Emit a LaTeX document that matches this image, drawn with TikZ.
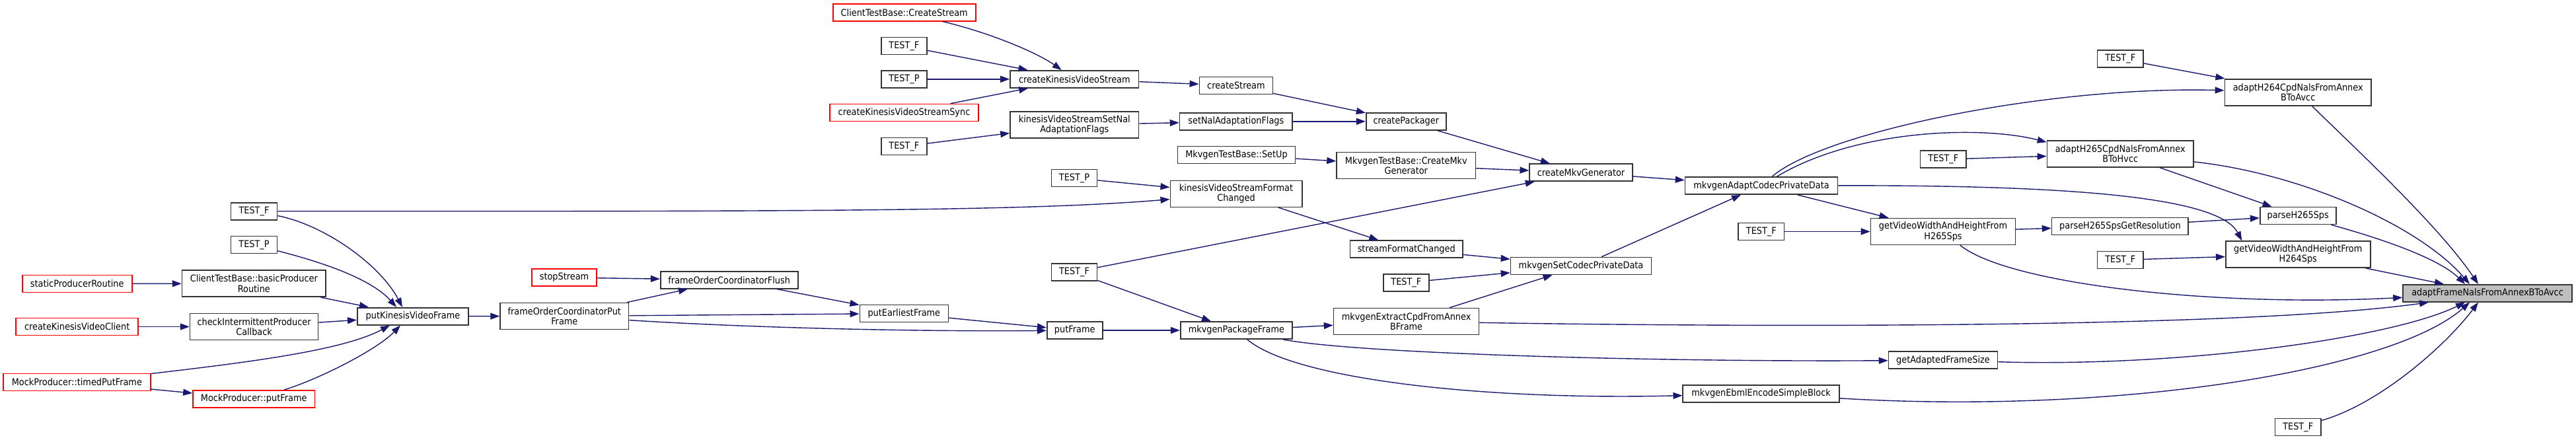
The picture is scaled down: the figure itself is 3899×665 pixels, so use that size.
\documentclass[tikz,border=0pt]{standalone}
\usepackage{fontspec}
\setmainfont{DejaVu Sans}[FakeStretch=0.9]
\usetikzlibrary{arrows.meta}

\definecolor{midnight}{HTML}{191970}
\newcommand*{\boxone}{26}
\newcommand*{\boxtwo}{40}

\begin{document}
\begin{tikzpicture}
[
	x=1pt, y=-1pt,
	fn/.style={draw=black!80, fill=white, line width=1.6pt, inner xsep=2pt, inner ysep=1pt, minimum height=\boxone, font=\fontsize{14.3}{15.3}\selectfont, align=center},
	two/.style={minimum height=\boxtwo},
	trunc/.style={draw=red},
	focus/.style={fill=black!25},
	call/.style={draw=midnight, line width=1.4pt, -{Triangle[length=14pt,width=10pt]}}
]

	\useasboundingbox (0,0) rectangle (3899,665);

	% producer side
	\node[fn, minimum width=70] (tfA) at (384.5,319.7) {TEST\_F};
	\node[fn, minimum width=70] (tpA) at (384.5,370.5) {TEST\_P};
	\node[fn, trunc, minimum width=166] (staticPR) at (116.7,429.5) {staticProducerRoutine};
	\node[fn, two, minimum width=217.5] (basicPR) at (384.3,429.2) {ClientTestBase::basicProducer\\Routine};
	\node[fn, trunc, minimum width=185] (createKVC) at (116.7,494.5) {createKinesisVideoClient};
	\node[fn, two, minimum width=194] (checkIPC) at (384.6,494.5) {checkIntermittentProducer\\Callback};
	\node[fn, trunc, minimum width=222.6] (timedPF) at (116.4,578.5) {MockProducer::timedPutFrame};
	\node[fn, trunc, minimum width=184.4] (mockPF) at (384.2,603.8) {MockProducer::putFrame};
	\node[fn, minimum width=168.4] (putKVF) at (625,478.7) {putKinesisVideoFrame};
	\node[fn, trunc, minimum width=97.5] (stopS) at (854,420) {stopStream};
	\node[fn, two, minimum width=194.5] (focPut) at (854.3,478.5) {frameOrderCoordinatorPut\\Frame};
	\node[fn, minimum width=208] (focFlush) at (1103.7,423.7) {frameOrderCoordinatorFlush};
	\node[fn, minimum width=134] (putEF) at (1368.3,474.5) {putEarliestFrame};

	% stream creation
	\node[fn, trunc, minimum width=216] (ctbCS) at (1368.7,18.7) {ClientTestBase::CreateStream};
	\node[fn, minimum width=69] (tfB) at (1368.4,69.5) {TEST\_F};
	\node[fn, minimum width=69] (tpB) at (1368.4,119.8) {TEST\_P};
	\node[fn, trunc, minimum width=225] (createKVSS) at (1368.5,170.5) {createKinesisVideoStreamSync};
	\node[fn, minimum width=69] (tfC) at (1368.4,221.5) {TEST\_F};
	\node[fn, minimum width=194.6] (createKVS) at (1626.3,119.8) {createKinesisVideoStream};
	\node[fn, two, minimum width=194.6] (kvsSetNal) at (1626.3,189.2) {kinesisVideoStreamSetNal\\AdaptationFlags};
	\node[fn, minimum width=69] (tpC) at (1626,269.5) {TEST\_P};
	\node[fn, minimum width=69] (tfD) at (1626,411.8) {TEST\_F};
	\node[fn, minimum width=84] (putF) at (1626.7,500) {putFrame};
	\node[fn, minimum width=111] (createS) at (1870.9,129.5) {createStream};
	\node[fn, minimum width=170.5] (setNal) at (1870.8,183.8) {setNalAdaptationFlags};
	\node[fn, minimum width=178.3] (mtbSetUp) at (1871.5,234.5) {MkvgenTestBase::SetUp};
	\node[fn, two, minimum width=199.4] (kvsFC) at (1871,293.3) {kinesisVideoStreamFormat\\Changed};
	\node[fn, minimum width=169.3] (pkgFrame) at (1871.4,500) {mkvgenPackageFrame};

	% mkv generator
	\node[fn, minimum width=121.2] (createPkg) at (2128.3,183.8) {createPackager};
	\node[fn, two, minimum width=210.5] (mtbCMG) at (2128.3,250.5) {MkvgenTestBase::CreateMkv\\Generator};
	\node[fn, minimum width=170.3] (streamFC) at (2128.7,377.2) {streamFormatChanged};
	\node[fn, minimum width=69] (tfE) at (2128.3,427.8) {TEST\_F};
	\node[fn, two, minimum width=220] (extractCpd) at (2128.6,486.5) {mkvgenExtractCpdFromAnnex\\BFrame};
	\node[fn, minimum width=155.6] (createMG) at (2393,261.2) {createMkvGenerator};
	\node[fn, minimum width=213] (setCPD) at (2393,402.5) {mkvgenSetCodecPrivateData};
	\node[fn, minimum width=231] (adaptCPD) at (2666,281.2) {mkvgenAdaptCodecPrivateData};
	\node[fn, minimum width=69.5] (tfF) at (2665.8,350.5) {TEST\_F};
	\node[fn, minimum width=236.7] (ebmlESB) at (2665.6,595.7) {mkvgenEbmlEncodeSimpleBlock};

	% nal helpers
	\node[fn, minimum width=69.4] (tfG) at (2941.3,241.2) {TEST\_F};
	\node[fn, two, minimum width=219] (gvwh265) at (2941,350.5) {getVideoWidthAndHeightFrom\\H265Sps};
	\node[fn, minimum width=165] (getAFS) at (2941,545.2) {getAdaptedFrameSize};
	\node[fn, minimum width=69.5] (tfH) at (3209.2,89.2) {TEST\_F};
	\node[fn, two, minimum width=221.6] (adaptH265) at (3209.2,233) {adaptH265CpdNalsFromAnnex\\BToHvcc};
	\node[fn, minimum width=206.7] (parseRes) at (3208.9,342.3) {parseH265SpsGetResolution};
	\node[fn, minimum width=69.5] (tfI) at (3209.2,393.5) {TEST\_F};
	\node[fn, two, minimum width=221.6] (adaptH264) at (3478.2,139.7) {adaptH264CpdNalsFromAnnex\\BToAvcc};
	\node[fn, minimum width=115] (parseSps) at (3478.2,326.5) {parseH265Sps};
	\node[fn, two, minimum width=219] (gvwh264) at (3478.2,385.2) {getVideoWidthAndHeightFrom\\H264Sps};
	\node[fn, minimum width=69.6] (tfJ) at (3478.2,646.5) {TEST\_F};
	\node[fn, focus, minimum width=256] (adaptFrame) at (3765,443.8) {adaptFrameNalsFromAnnexBToAvcc};

	% calls, left part
	\draw[call] (staticPR) -- (basicPR);
	\draw[call] (createKVC) -- (checkIPC);
	\draw[call] (tfA) .. controls (490,340) and (575,400) .. ([xshift=-16pt]putKVF.north);
	\draw[call] (tpA) .. controls (480,395) and (560,420) .. ([xshift=-25pt]putKVF.north);
	\draw[call] (basicPR) -- (putKVF);
	\draw[call] (checkIPC) -- (putKVF);
	\draw[call] (timedPF) .. controls (380,548) and (520,530) .. ([xshift=-35pt]putKVF.south);
	\draw[call] (timedPF) -- (mockPF);
	\draw[call] (mockPF) .. controls (480,575) and (570,530) .. ([xshift=-19pt]putKVF.south);
	\draw[call] (putKVF) -- (focPut);
	\draw[call] (stopS) -- (focFlush);
	\draw[call] (focPut) -- (focFlush);
	\draw[call] (focPut) -- (putEF);
	\draw[call] (focPut) .. controls (1150,497) and (1400,502) .. (putF);
	\draw[call] (focFlush) -- (putEF);
	\draw[call] (putEF) -- (putF);
	\draw[call] (putF) -- (pkgFrame);
	\draw[call] (tfD) -- (pkgFrame);
	\draw[call] (tfD) -- (createMG);
	\draw[call] (tfA) .. controls (1200,320) and (1550,320) .. (kvsFC);

	% calls, middle part
	\draw[call] (ctbCS) .. controls (1500,50) and (1570,80) .. (createKVS);
	\draw[call] (tfB) -- (createKVS);
	\draw[call] (tpB) -- (createKVS);
	\draw[call] (createKVSS) -- (createKVS);
	\draw[call] (tfC) -- (kvsSetNal);
	\draw[call] (createKVS) -- (createS);
	\draw[call] (kvsSetNal) -- (setNal);
	\draw[call] (createS) -- (createPkg);
	\draw[call] (setNal) -- (createPkg);
	\draw[call] (mtbSetUp) -- (mtbCMG);
	\draw[call] (tpC) -- (kvsFC);
	\draw[call] (kvsFC) -- (streamFC);
	\draw[call] (createPkg) -- (createMG);
	\draw[call] (mtbCMG) -- (createMG);
	\draw[call] (createMG) -- (adaptCPD);
	\draw[call] (streamFC) -- (setCPD);
	\draw[call] (tfE) -- (setCPD);
	\draw[call] (extractCpd) -- (setCPD);
	\draw[call] (setCPD) -- (adaptCPD);
	\draw[call] (pkgFrame) -- (extractCpd);
	\draw[call] (pkgFrame) .. controls (2050,535) and (2500,548) .. (getAFS);
	\draw[call] (pkgFrame) .. controls (1960,575) and (2250,606) .. (ebmlESB);

	% calls, right part
	\draw[call] (adaptCPD) .. controls (2760,200) and (3100,130) .. (adaptH264);
	\draw[call] (adaptCPD) .. controls (2810,195) and (3000,190) .. ([yshift=-3pt]adaptH265.north west);
	\draw[call] (adaptCPD) -- (gvwh265);
	\draw[call] (adaptCPD) .. controls (3150,280) and (3360,300) .. ([xshift=-85pt]gvwh264.north);
	\draw[call] (tfF) -- (gvwh265);
	\draw[call] (tfG) -- (adaptH265);
	\draw[call] (gvwh265) -- (parseRes);
	\draw[call] (gvwh265) .. controls (3040,430) and (3350,465) .. (adaptFrame);
	\draw[call] (parseRes) -- (parseSps);
	\draw[call] (adaptH265) -- (parseSps);
	\draw[call] (adaptH265) .. controls (3480,262) and (3660,340) .. ([xshift=-27pt]adaptFrame.north);
	\draw[call] (tfH) -- (adaptH264);
	\draw[call] (adaptH264) .. controls (3560,220) and (3690,340) .. ([xshift=-14pt]adaptFrame.north);
	\draw[call] (parseSps) .. controls (3600,360) and (3690,390) .. ([xshift=-34pt]adaptFrame.north);
	\draw[call] (tfI) -- (gvwh264);
	\draw[call] (gvwh264) -- ([xshift=-66pt]adaptFrame.north);
	\draw[call] (extractCpd) .. controls (2700,496) and (3400,496) .. ([xshift=-89pt]adaptFrame.south);
	\draw[call] (getAFS) .. controls (3300,556) and (3620,512) .. ([xshift=-34pt]adaptFrame.south);
	\draw[call] (ebmlESB) .. controls (3200,628) and (3620,562) .. ([xshift=-27pt]adaptFrame.south);
	\draw[call] (tfJ) .. controls (3600,612) and (3700,525) .. ([xshift=-14pt]adaptFrame.south);

\end{tikzpicture}
\end{document}
